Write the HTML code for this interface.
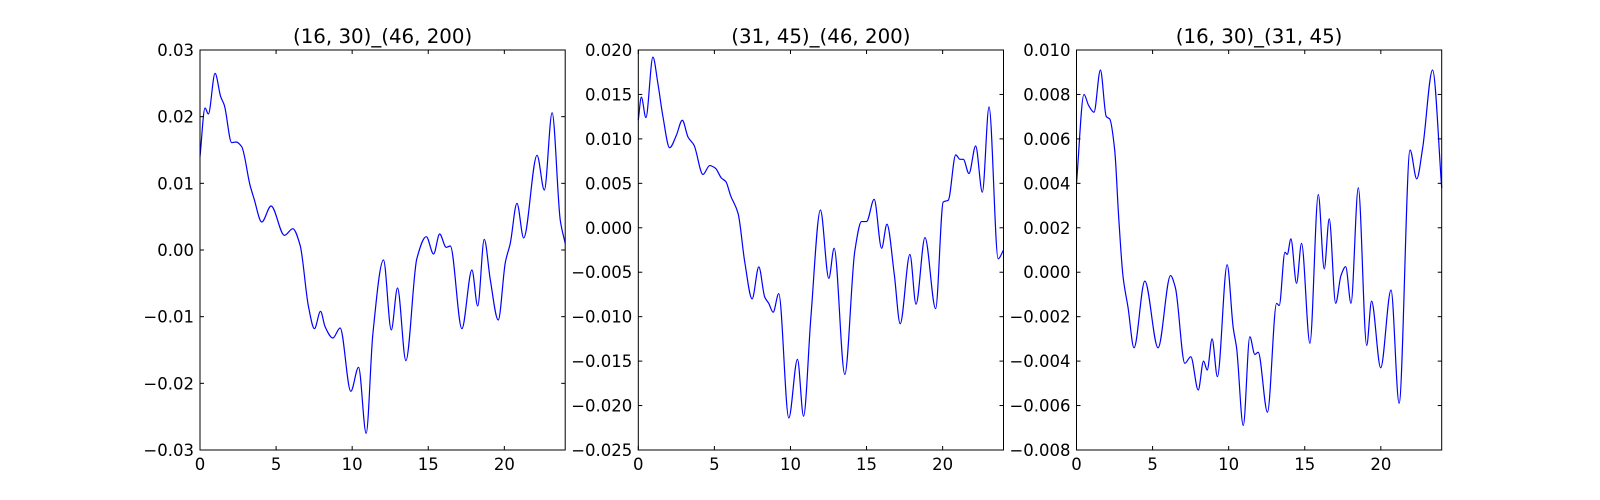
<!DOCTYPE html>
<html><head><meta charset="utf-8">
<style>
html,body{margin:0;padding:0;background:#fff;}
svg{display:block;font-family:"DejaVu Sans","Liberation Sans",sans-serif;}
</style></head>
<body>
<svg id="fig" width="1600" height="500" viewBox="0 0 1600 500"></svg>
<script>
// ---- data (y values in thousandths) ----
const titles = ["(16, 30)_(46, 200)", "(31, 45)_(46, 200)", "(16, 30)_(31, 45)"];
const xTicks = [0, 5, 10, 15, 20];
const yTicks1 = [-0.03, -0.02, -0.01, 0.00, 0.01, 0.02, 0.03];
const yTickLabels1 = ["\u22120.03","\u22120.02","\u22120.01","0.00","0.01","0.02","0.03"];
const yTicks2 = [-0.025,-0.02,-0.015,-0.01,-0.005,0,0.005,0.01,0.015,0.02];
const yTickLabels2 = ["\u22120.025","\u22120.020","\u22120.015","\u22120.010","\u22120.005","0.000","0.005","0.010","0.015","0.020"];
const yTicks3 = [-0.008,-0.006,-0.004,-0.002,0,0.002,0.004,0.006,0.008,0.010];
const yTickLabels3 = ["\u22120.008","\u22120.006","\u22120.004","\u22120.002","0.000","0.002","0.004","0.006","0.008","0.010"];
const s1x = [0,0.33,0.55,0.99,1.36,1.6,2.08,2.37,2.74,3.29,3.55,4.06,4.67,5.55,6.1,6.58,7.13,7.52,7.92,8.22,8.73,9.21,9.91,10.42,10.92,11.36,12.06,12.57,12.98,13.53,14.25,14.87,15.35,15.75,16.18,16.45,17.21,17.87,18.25,18.68,19.08,19.6,20.07,20.39,20.83,21.27,22.15,22.63,23.14,23.68,24];
const s1y = [14,21.3,20.4,26.5,23.0,21.7,16.1,16.2,15.5,9.7,7.7,4.2,6.6,2.2,3.2,0.7,-8.5,-11.8,-9.2,-11.5,-13.2,-11.7,-21.2,-17.6,-27.5,-12.6,-1.5,-12.0,-5.7,-16.6,-1.3,2.0,-0.6,2.4,0.4,0.6,-11.8,-3.0,-8.4,1.6,-4.5,-10.5,-1.8,1.0,7.0,1.8,14.2,9.0,20.6,4.4,1.0];
const s2x = [0,0.2,0.5,0.96,1.29,1.62,2.06,2.5,2.89,3.27,3.66,4.25,4.69,5.07,5.46,5.75,6.07,6.56,7.0,7.48,7.92,8.31,8.57,8.86,9.23,9.89,10.46,10.86,11.34,11.97,12.52,12.87,13.57,14.23,14.67,15.0,15.5,15.99,16.34,16.82,17.21,17.85,18.25,18.84,19.54,20.04,20.37,20.86,21.14,21.36,21.73,22.17,22.61,23.05,23.65,24];
const s2y = [12.1,14.7,12.4,19.2,16.2,12.5,9.0,10.4,12.1,10.2,9.3,6.0,7.0,6.7,5.6,5.2,3.6,1.6,-3.9,-8.0,-4.4,-7.8,-8.5,-9.5,-7.4,-21.4,-14.8,-21.2,-10.1,2.0,-5.7,-2.3,-16.5,-2.6,0.7,0.7,3.2,-2.3,0.4,-5.2,-10.8,-3.0,-8.6,-1.1,-9.1,2.9,3.1,8.2,7.7,7.7,6.1,9.2,4.0,13.6,-3.5,-2.5];
const s3x = [0,0.49,0.8,1.15,1.57,1.96,2.18,2.51,2.77,3.06,3.39,3.78,4.49,5.36,6.18,6.5,7.12,7.51,8.0,8.35,8.59,8.91,9.26,9.9,10.3,10.52,10.96,11.39,11.72,11.94,12.55,13.15,13.32,13.7,13.85,14.09,14.46,14.79,15.34,15.89,16.28,16.61,17.03,17.38,17.69,18.04,18.52,19.07,19.39,19.99,20.67,21.2,21.92,22.36,22.75,23.4,24];
const s3y = [4.0,8.0,7.5,7.2,9.1,7.0,6.9,5.5,2.5,-0.2,-1.6,-3.4,-0.4,-3.4,-0.15,-0.7,-4.1,-3.8,-5.3,-4.0,-4.4,-3.0,-4.7,0.34,-2.5,-3.4,-6.9,-2.9,-3.7,-3.6,-6.3,-1.4,-1.5,0.9,0.8,1.5,-0.5,1.3,-3.2,3.5,0.15,2.4,-1.4,-0.15,0.25,-1.4,3.8,-3.3,-1.3,-4.3,-0.8,-5.9,5.5,4.2,5.6,9.1,3.8];

const NS = "http://www.w3.org/2000/svg";
const svg = document.getElementById("fig");
function mk(tag, attrs, parent){
  const e = document.createElementNS(NS, tag);
  for (const k in attrs) e.setAttribute(k, attrs[k]);
  (parent||svg).appendChild(e);
  return e;
}
function monoPath(px, py){
  const n = px.length, d = [], m = [];
  for (let i=0;i<n-1;i++) d.push((py[i+1]-py[i])/(px[i+1]-px[i]));
  m[0]=d[0]; m[n-1]=d[n-2];
  for (let i=1;i<n-1;i++){
    if (d[i-1]*d[i] <= 0) m[i]=0;
    else { const w1=2*(px[i+1]-px[i])+(px[i]-px[i-1]), w2=(px[i+1]-px[i])+2*(px[i]-px[i-1]);
      m[i]=(w1+w2)/(w1/d[i-1]+w2/d[i]); }
  }
  let s = "M"+px[0].toFixed(2)+","+py[0].toFixed(2);
  for (let i=0;i<n-1;i++){
    const h=(px[i+1]-px[i])/3;
    s += " C"+(px[i]+h).toFixed(2)+","+(py[i]+m[i]*h).toFixed(2)+" "+(px[i+1]-h).toFixed(2)+","+(py[i+1]-m[i+1]*h).toFixed(2)+" "+px[i+1].toFixed(2)+","+py[i+1].toFixed(2);
  }
  return s;
}
const panels = [
  {left:200, ylo:-0.03, yhi:0.03, yt:yTicks1, yl:yTickLabels1, xs:s1x, ys:s1y},
  {left:638.3, ylo:-0.025, yhi:0.02, yt:yTicks2, yl:yTickLabels2, xs:s2x, ys:s2y},
  {left:1076.5, ylo:-0.008, yhi:0.010, yt:yTicks3, yl:yTickLabels3, xs:s3x, ys:s3y}
];
const W = 365.2, TOP = 50, BOT = 450;
panels.forEach((p, k) => {
  const g = mk("g", {});
  
  
  const X = v => p.left + v/24*W;
  const Y = v => BOT - (v - p.ylo)/(p.yhi - p.ylo)*(BOT-TOP);
  // line
  const px = p.xs.map(X), py = p.ys.map(v => Y(v/1000));
  const line = mk("path", {d: monoPath(px, py), fill:"none", stroke:"#0000ff", "stroke-width":1.2, "stroke-linejoin":"round"}, g);
  
  
  // frame
  const fr = mk("rect", {x:p.left, y:TOP, width:W, height:BOT-TOP, fill:"none", stroke:"#000", "stroke-width":1}, g);
  
  
  // x ticks
  xTicks.forEach(t => {
    const x = X(t);
    mk("line", {x1:x, y1:BOT, x2:x, y2:BOT-4, stroke:"#000"}, g);
    mk("line", {x1:x, y1:TOP, x2:x, y2:TOP+4, stroke:"#000"}, g);
    const tx = mk("text", {x:x, y:BOT+20, "font-size":16.5, "text-anchor":"middle"}, g);
    tx.textContent = String(t);
    
    
  });
  // y ticks
  p.yt.forEach((t, i) => {
    const y = Y(t);
    mk("line", {x1:p.left, y1:y, x2:p.left+4, y2:y, stroke:"#000"}, g);
    mk("line", {x1:p.left+W, y1:y, x2:p.left+W-4, y2:y, stroke:"#000"}, g);
    const ty = mk("text", {x:p.left-6, y:y+6, "font-size":16.5, "text-anchor":"end"}, g);
    ty.textContent = p.yl[i];
    
    
  });
  const ti = mk("text", {x:p.left+W/2, y:43, "font-size":19.8, "text-anchor":"middle"}, g);
  ti.textContent = titles[k];
  
  
});
</script>
</body></html>
